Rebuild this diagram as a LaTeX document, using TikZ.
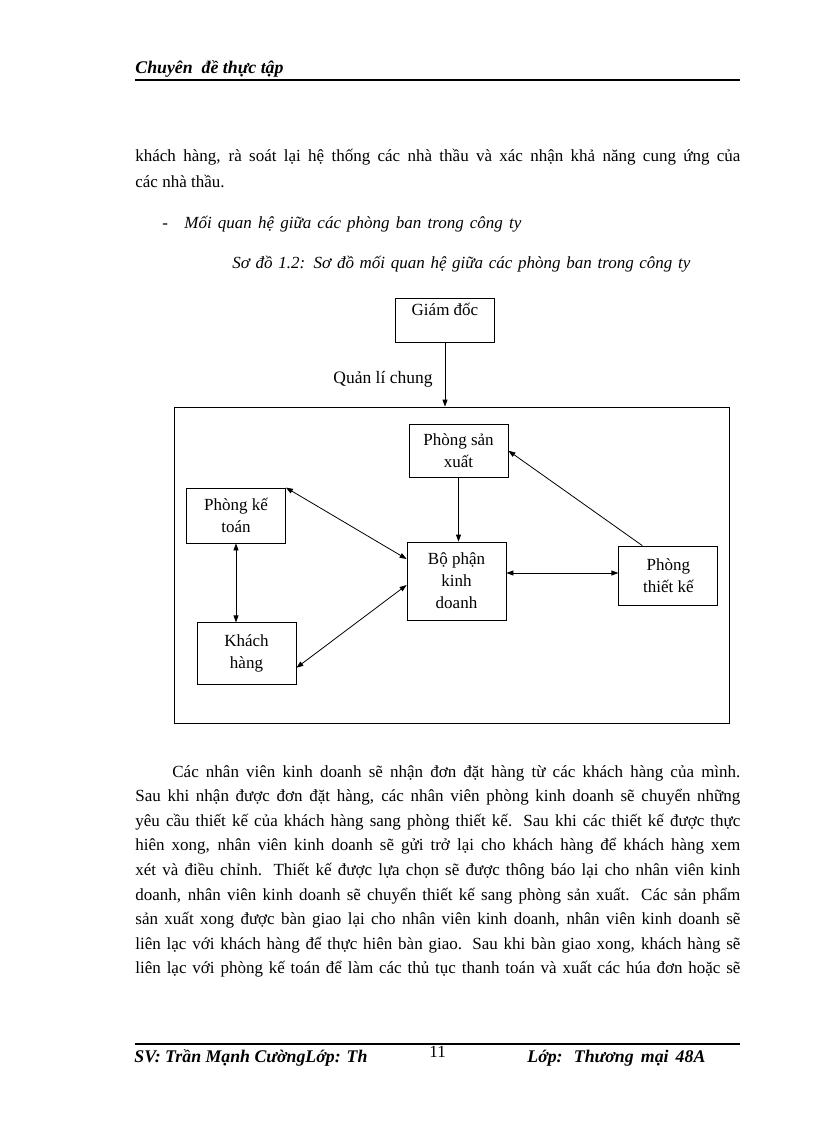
\documentclass[tikz,border=0pt]{standalone}
\usepackage{fontspec}
\setmainfont{Liberation Serif}
\usepackage{tikz}
\usetikzlibrary{arrows.meta,positioning}
\usepackage{xcolor}

\newcommand{\dongdeu}[2]{\makebox[#1pt][s]{#2}}

\begin{document}
\begin{tikzpicture}[x=1pt,y=-1pt,->,>={Triangle[length=7pt,width=5pt]},
                    line width=0.8pt]
  \tikzstyle{phong}=[draw,minimum width=99pt,align=center,inner sep=0pt,
                     font=\fontsize{17}{22}\selectfont]
  \tikzstyle{chu}=[anchor=base west,inner sep=0pt,font=\fontsize{17}{20}\selectfont]
  \tikzstyle{tieude}=[chu,font=\fontsize{17.8}{20}\selectfont\bfseries\itshape]

  \useasboundingbox (0,0) rectangle (816,1123);

  % dau trang
  \node[tieude] (dau) at (135,74) {Chuyên\ \ đề thực tập};
  \draw[-,line width=1.2pt] (135,80) -- (740,80);

  \node[chu] (p1a) at (135,162) {\dongdeu{605}{khách hàng, rà soát lại hệ thống các nhà thầu và xác nhận khả năng cung ứng của}};
  \node[chu] (p1b) at (135,188) {các nhà thầu.};
  \node[chu] (gach) at (162,229) {-};
  \node[chu,font=\fontsize{17}{20}\selectfont\itshape] (muc) at (184,229) {\dongdeu{337}{Mối quan hệ giữa các phòng ban trong công ty}};
  \node[chu,font=\fontsize{17}{20}\selectfont\itshape] (tieudesd) at (232,268) {\dongdeu{458}{Sơ đồ 1.2: Sơ đồ mối quan hệ giữa các phòng ban trong công ty}};

  % so do
  \node[phong,minimum height=44pt] (giamdoc) at (445,320) {Giám đốc\\~};
  \node[draw,minimum width=555pt,minimum height=316pt,inner sep=0pt] (khung) at (451.5,565) {};

  \node[phong,minimum height=78pt] (bophan) at (456.5,581) {Bộ phận\\kinh\\doanh};
  \node[phong,minimum height=53pt] (sanxuat) [above=64pt of bophan,xshift=2pt] {Phòng sản\\xuất};
  \node[phong,minimum height=59pt] (thietke) [right=112pt of bophan,yshift=5.5pt] {Phòng\\thiết kế};
  \node[phong,minimum height=55pt] (ketoan) at (236,515.5) {Phòng kế\\toán};
  \node[phong,minimum height=62pt] (khachhang) [below=79pt of ketoan,xshift=10.5pt] {Khách\\hàng};

  \draw (giamdoc.south) -- node[pos=.57,left=12pt,inner sep=0pt,font=\fontsize{17.5}{20}\selectfont] (quanli) {Quản lí chung}
        (giamdoc.south |- khung.north);
  \draw (sanxuat.south) -- (sanxuat.south |- bophan.north);
  \draw ([xshift=-26pt]thietke.north) -- (sanxuat.east);
  \draw[<->] (ketoan.north east) -- ([yshift=22pt]bophan.west);
  \draw[<->] (ketoan.south) -- (ketoan.south |- khachhang.north);
  \draw[<->] ([yshift=-14pt]khachhang.east) -- ([yshift=-4pt]bophan.west);
  \draw[<->] ([yshift=8pt]bophan.east) -- ([yshift=8pt]bophan.east -| thietke.west);

  % doan van
  \node[chu] (d1) at (172,777) {\dongdeu{568}{Các nhân viên kinh doanh sẽ nhận đơn đặt hàng từ các khách hàng của mình.}};
  \node[chu] (d2) at (135,801.6) {\dongdeu{605}{Sau khi nhận được đơn đặt hàng, các nhân viên phòng kinh doanh sẽ chuyển những}};
  \node[chu] (d3) at (135,826.2) {\dongdeu{605}{yêu cầu thiết kế của khách hàng sang phòng thiết kế. Sau khi các thiết kế được thực}};
  \node[chu] (d4) at (135,850.8) {\dongdeu{605}{hiên xong, nhân viên kinh doanh sẽ gửi trở lại cho khách hàng để khách hàng xem}};
  \node[chu] (d5) at (135,875.4) {\dongdeu{605}{xét và điều chỉnh. Thiết kế được lựa chọn sẽ được thông báo lại cho nhân viên kinh}};
  \node[chu] (d6) at (135,900) {\dongdeu{605}{doanh, nhân viên kinh doanh sẽ chuyển thiết kế sang phòng sản xuất. Các sản phẩm}};
  \node[chu] (d7) at (135,924.6) {\dongdeu{605}{sản xuất xong được bàn giao lại cho nhân viên kinh doanh, nhân viên kinh doanh sẽ}};
  \node[chu] (d8) at (135,949.2) {\dongdeu{605}{liên lạc với khách hàng để thực hiên bàn giao. Sau khi bàn giao xong, khách hàng sẽ}};
  \node[chu] (d9) at (135,973.8) {\dongdeu{605}{liên lạc với phòng kế toán để làm các thủ tục thanh toán và xuất các húa đơn hoặc sẽ}};

  % chan trang
  \draw[-,line width=2pt] (135,1043.5) -- (740,1043.5);
  \node[tieude] (sv) at (134,1062) {SV: Trần Mạnh CườngLớp: Th};
  \node[chu] (trang) at (429,1057) {11};
  \node[tieude] (lop) at (527,1062) {\dongdeu{178}{Lớp: Thương mại 48A}};
\end{tikzpicture}
\end{document}
